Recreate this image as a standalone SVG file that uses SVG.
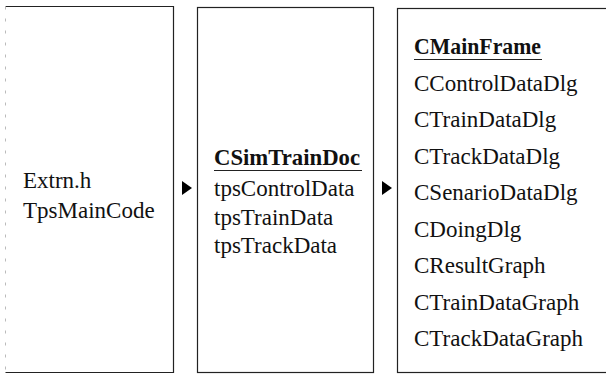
<svg xmlns="http://www.w3.org/2000/svg" width="606" height="374" viewBox="0 0 606 374">
<style>
.box{fill:#fff;stroke:#222;stroke-width:1.2}
.t{font-family:"Liberation Serif","Times New Roman",serif;font-size:23px;fill:#111}
.b{font-weight:bold}
.ul{stroke:#222;stroke-width:1.2}
.arr{fill:#000}
</style>
<rect width="606" height="374" fill="#fff"/>
<g id="node-extrn">
<path class="box" d="M5.5,6.5 H173.5 V372.5 H5.5" />
<path d="M5.5,6.5 V372.5" stroke="#bbb" stroke-width="1" stroke-dasharray="3,9" fill="none"/>
<text class="t" x="23" y="188">Extrn.h</text>
<text class="t" x="23" y="218">TpsMainCode</text>
</g>
<g id="node-doc">
<rect class="box" x="197.5" y="7.5" width="176" height="365"/>
<text class="t b" x="214" y="165" textLength="146" lengthAdjust="spacingAndGlyphs">CSimTrainDoc</text>
<line class="ul" x1="214" y1="170.5" x2="362" y2="170.5"/>
<text class="t" x="214" y="196">tpsControlData</text>
<text class="t" x="214" y="225">tpsTrainData</text>
<text class="t" x="214" y="253">tpsTrackData</text>
</g>
<g id="node-frame">
<rect class="box" x="397.5" y="8.5" width="220" height="364"/>
<text class="t b" x="414" y="54" textLength="127" lengthAdjust="spacingAndGlyphs">CMainFrame</text>
<line class="ul" x1="414" y1="59.5" x2="542" y2="59.5"/>
<text class="t" x="414" y="90.5">CControlDataDlg</text>
<text class="t" x="414" y="127">CTrainDataDlg</text>
<text class="t" x="414" y="163.5">CTrackDataDlg</text>
<text class="t" x="414" y="200">CSenarioDataDlg</text>
<text class="t" x="414" y="236.5">CDoingDlg</text>
<text class="t" x="414" y="273">CResultGraph</text>
<text class="t" x="414" y="309.5">CTrainDataGraph</text>
<text class="t" x="414" y="346">CTrackDataGraph</text>
</g>
<g id="connectors">
<polygon class="arr" points="182,181 192,188 182,195"/>
<polygon class="arr" points="382,181 392,188 382,195"/>
</g>
</svg>
